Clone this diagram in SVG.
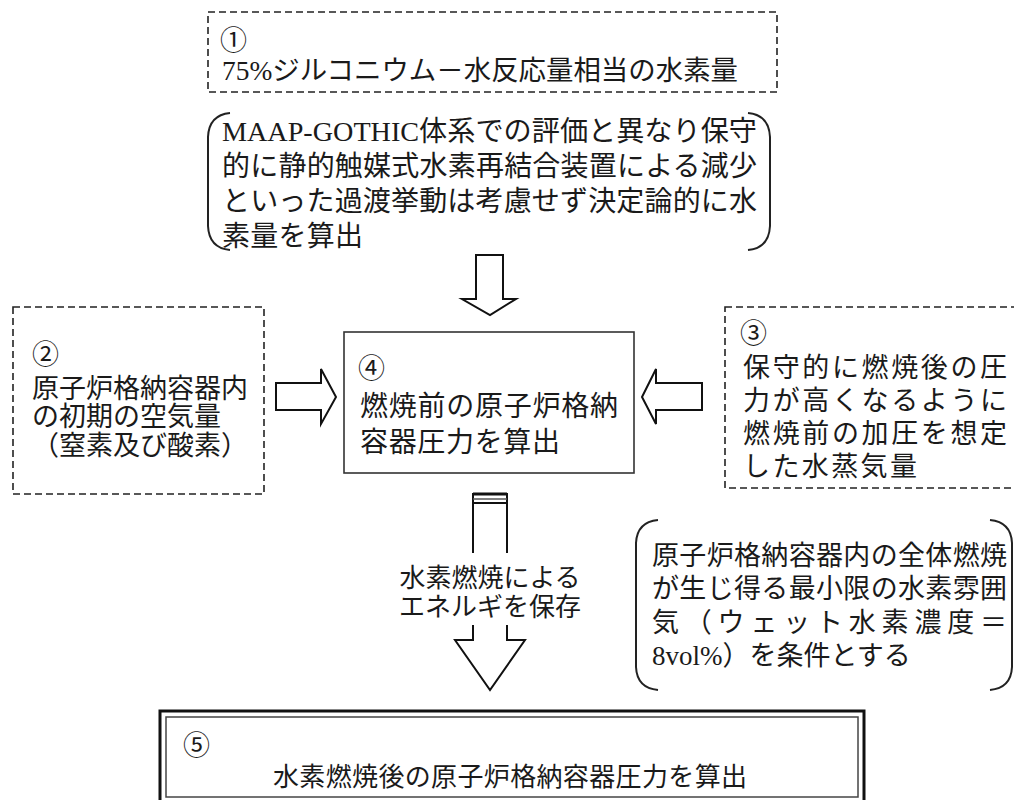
<svg xmlns="http://www.w3.org/2000/svg" width="1014" height="800" viewBox="0 0 1014 800">
<style>
  text { font-family: "Liberation Serif", "Noto Sans CJK JP", serif; fill: #1a1a1a; }
  .t27 { font-size: 27px; }
  .t28 { font-size: 28px; }
  .t26 { font-size: 26px; }
  .num { font-size: 27px; }
  .dash { fill: none; stroke: #222; stroke-width: 1.6; stroke-dasharray: 7 4; }
  .brk { fill: none; stroke: #222; stroke-width: 2; }
  .box { fill: #fff; stroke: #333; stroke-width: 1.6; }
  .arr { fill: #fff; stroke: #111; stroke-width: 2; stroke-linejoin: miter; }
</style>
<rect width="1014" height="800" fill="#fff"/>

<g id="node1">
  <rect class="dash" x="208" y="12" width="569" height="80"/>
  <text class="num" x="220" y="50">①</text>
  <text class="t27" x="222" y="80" textLength="516" lengthAdjust="spacingAndGlyphs">75%ジルコニウム－水反応量相当の水素量</text>
</g>

<g id="note1">
  <path class="brk" d="M230 113 Q209 115 208 137 L208 226 Q209 248 230 250"/>
  <path class="brk" d="M748 113 Q769 115 770 137 L770 226 Q769 248 748 250"/>
  <text class="t28" x="222" y="141" textLength="535" lengthAdjust="spacingAndGlyphs">MAAP-GOTHIC体系での評価と異なり保守</text>
  <text class="t28" x="222" y="176" textLength="535" lengthAdjust="spacing">的に静的触媒式水素再結合装置による減少</text>
  <text class="t28" x="222" y="211" textLength="535" lengthAdjust="spacing">といった過渡挙動は考慮せず決定論的に水</text>
  <text class="t28" x="222" y="246" textLength="141" lengthAdjust="spacing">素量を算出</text>
</g>

<g id="node2">
  <rect class="dash" x="13" y="307" width="251" height="187"/>
  <text class="num" x="32" y="364">②</text>
  <text class="t27" x="32" y="398">原子炉格納容器内</text>
  <text class="t27" x="32" y="426">の初期の空気量</text>
  <text class="t27" x="32" y="455">（窒素及び酸素）</text>
</g>

<g id="node4">
  <rect class="box" x="344" y="332" width="290" height="141"/>
  <text class="num" x="358" y="378">④</text>
  <text class="t28" x="360" y="416" textLength="258" lengthAdjust="spacing">燃焼前の原子炉格納</text>
  <text class="t28" x="360" y="452" textLength="200" lengthAdjust="spacing">容器圧力を算出</text>
</g>

<g id="node3">
  <rect class="dash" x="725" y="307" width="300" height="181"/>
  <text class="num" x="740" y="343">③</text>
  <text class="t27" x="743" y="377" textLength="264" lengthAdjust="spacing">保守的に燃焼後の圧</text>
  <text class="t27" x="743" y="410" textLength="264" lengthAdjust="spacing">力が高くなるように</text>
  <text class="t27" x="743" y="443" textLength="264" lengthAdjust="spacing">燃焼前の加圧を想定</text>
  <text class="t27" x="743" y="476" textLength="174" lengthAdjust="spacing">した水蒸気量</text>
</g>

<g id="note2">
  <path class="brk" d="M658 520 Q637 522 636 543 L636 667 Q637 688 658 690"/>
  <path class="brk" d="M990 520 Q1011 522 1012 543 L1012 667 Q1011 688 990 690"/>
  <text class="t27" x="652" y="565" textLength="355" lengthAdjust="spacing">原子炉格納容器内の全体燃焼</text>
  <text class="t27" x="652" y="598" textLength="355" lengthAdjust="spacing">が生じ得る最小限の水素雰囲</text>
  <text class="t27" x="652" y="632" textLength="355" lengthAdjust="spacing">気（ウェット水素濃度＝</text>
  <text class="t27" x="652" y="665">8vol%）を条件とする</text>
</g>

<g id="node5">
  <rect x="160" y="711" width="704" height="100" fill="#fff" stroke="#111" stroke-width="3"/>
  <rect x="166" y="717" width="692" height="80" fill="none" stroke="#444" stroke-width="1.5"/>
  <text class="num" x="183" y="755">⑤</text>
  <text class="t26" x="510" y="786" text-anchor="middle" textLength="474" lengthAdjust="spacing">水素燃焼後の原子炉格納容器圧力を算出</text>
</g>

<g id="connectors">
  <path class="arr" d="M476 255 L503 255 L503 299 L516 299 L490 315 L462 299 L476 299 Z"/>
  <path class="arr" d="M276 383 L321 383 L321 369 L336 397 L321 424 L321 410 L276 410 Z"/>
  <path class="arr" d="M702 383 L656 383 L656 369 L642 397 L656 424 L656 410 L702 410 Z"/>
  <g id="arrow-energy">
    <path class="arr" d="M473 553 L473 494 L507 494 L507 553"/>
    <line x1="473" y1="494" x2="507" y2="494" stroke="#111" stroke-width="3"/>
    <line x1="473" y1="499" x2="507" y2="499" stroke="#555" stroke-width="1.5"/>
    <line x1="473" y1="503" x2="507" y2="503" stroke="#111" stroke-width="2"/>
    <path class="arr" d="M473 625 L473 640 L455 640 L490 690 L525 640 L507 640 L507 625" fill="none"/>
    <text class="t26" x="490" y="587" text-anchor="middle">水素燃焼による</text>
    <text class="t26" x="490" y="616" text-anchor="middle">エネルギを保存</text>
  </g>
</g>
</svg>
